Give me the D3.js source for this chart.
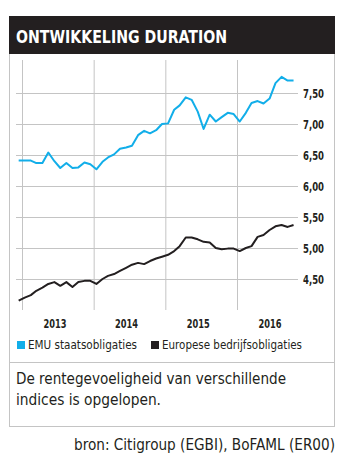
<!DOCTYPE html>
<html>
<head>
<meta charset="utf-8">
<script src="https://cdn.jsdelivr.net/npm/d3@7"></script>
<style>
  body { margin: 0; background: #fff; }
  text { font-family: "Liberation Sans Narrow", "DejaVu Sans Condensed", "Liberation Sans", sans-serif; }
</style>
</head>
<body>
<div id="chart"></div>
<script>
// monthly observations, Dec 2012 - Oct 2016
var months = d3.timeMonth.range(new Date(2012, 11, 1), new Date(2016, 10, 1))
  .map(function (d) { return d3.timeDay.offset(d, 14); });

var emuValues = [6.41, 6.41, 6.41, 6.37, 6.37, 6.54, 6.40, 6.29, 6.37, 6.29,
  6.30, 6.38, 6.35, 6.27, 6.39, 6.46, 6.51, 6.60, 6.62, 6.65,
  6.82, 6.89, 6.85, 6.90, 7.00, 7.01, 7.23, 7.30, 7.43, 7.39,
  7.20, 6.92, 7.15, 7.04, 7.11, 7.18, 7.16, 7.04, 7.18, 7.34,
  7.37, 7.33, 7.41, 7.66, 7.76, 7.70, 7.70];

var corpValues = [4.15, 4.20, 4.24, 4.31, 4.36, 4.42, 4.45, 4.39, 4.45, 4.37,
  4.45, 4.47, 4.47, 4.42, 4.50, 4.55, 4.58, 4.63, 4.68, 4.73,
  4.76, 4.74, 4.79, 4.83, 4.86, 4.89, 4.95, 5.03, 5.17, 5.17,
  5.14, 5.10, 5.09, 5.00, 4.98, 4.99, 4.99, 4.95, 5.00, 5.03,
  5.18, 5.21, 5.29, 5.35, 5.37, 5.34, 5.37];

var yTicks = [4.5, 5, 5.5, 6, 6.5, 7, 7.5];
var years = [2013, 2014, 2015, 2016];
var seriesNames = ["EMU staatsobligaties", "Europese bedrijfsobligaties"];
var seriesColors = ["#12aee9", "#231f20"];

var width = 346, height = 466;
var box = { left: 9, right: 335, top: 16, bottom: 427 };
var plot = { left: 16, right: 298, top: 62, bottom: 310 };
var ink = "#231f20";

var svg = d3.select("#chart").append("svg")
  .attr("width", width)
  .attr("height", height);

// squeeze text to the narrow widths of the original condensed face
function addText(xp, yp, size, str, len, opts) {
  opts = opts || {};
  return svg.append("text")
    .attr("x", xp).attr("y", yp)
    .attr("font-size", size)
    .attr("font-weight", opts.bold ? "bold" : null)
    .attr("fill", opts.fill || ink)
    .attr("text-anchor", opts.anchor || null)
    .attr("textLength", len)
    .attr("lengthAdjust", "spacingAndGlyphs")
    .text(str);
}

// frame
svg.append("rect")
  .attr("x", box.left + 0.5).attr("y", box.top + 0.5)
  .attr("width", box.right - box.left - 1).attr("height", box.bottom - box.top - 1)
  .attr("fill", "none").attr("stroke", "#c4c4c4");

svg.append("rect")
  .attr("x", box.left).attr("y", box.top)
  .attr("width", box.right - box.left).attr("height", 38)
  .attr("fill", ink);

addText(16, 42.5, 18.5, "ONTWIKKELING DURATION", 211, { bold: true, fill: "#fff" });

var x = d3.scaleTime()
  .domain([new Date(2013, 0, 1), new Date(2016, 0, 1)])
  .range([22, 237]);
var y = d3.scaleLinear().domain([4, 8]).range([plot.bottom, plot.top]);

// vertical year grid
var xGrid = svg.append("g")
  .attr("transform", "translate(0," + plot.bottom + ")")
  .call(d3.axisBottom(x)
    .tickValues(years.map(function (yr) { return new Date(yr, 0, 1); }))
    .tickSize(-(plot.bottom - 60))
    .tickFormat(""));
xGrid.select(".domain").remove();
xGrid.selectAll("line").attr("stroke", "#c4c4c4");

// horizontal grid + labels
var yAxis = svg.append("g")
  .attr("transform", "translate(" + plot.right + ",0)")
  .call(d3.axisRight(y)
    .tickValues(yTicks)
    .tickSize(-(plot.right - plot.left))
    .tickPadding(5)
    .tickFormat(function (d) { return d3.format(".2f")(d).replace(".", ","); }));
yAxis.select(".domain").remove();
yAxis.selectAll("line").attr("stroke", "#c4c4c4");
yAxis.selectAll("text")
  .attr("fill", ink)
  .attr("font-size", 12.5).attr("font-weight", "bold")
  .attr("textLength", 21).attr("lengthAdjust", "spacingAndGlyphs")
  .style("font-family", "'Liberation Sans Narrow', 'DejaVu Sans Condensed', sans-serif");

// year labels
var xLabels = svg.append("g")
  .attr("transform", "translate(0," + (plot.bottom + 6) + ")")
  .call(d3.axisBottom(x)
    .tickValues(years.map(function (yr) { return new Date(yr, 5, 15); }))
    .tickSize(0)
    .tickFormat(d3.timeFormat("%Y")));
xLabels.select(".domain").remove();
xLabels.selectAll("text")
  .attr("fill", ink)
  .attr("font-size", 12.5).attr("font-weight", "bold")
  .attr("textLength", 23).attr("lengthAdjust", "spacingAndGlyphs")
  .style("font-family", "'Liberation Sans Narrow', 'DejaVu Sans Condensed', sans-serif");

// lines
var line = d3.line()
  .x(function (d, i) { return x(months[i]); })
  .y(function (d) { return y(d); });

[emuValues, corpValues].forEach(function (vals, k) {
  svg.append("path")
    .datum(vals)
    .attr("fill", "none")
    .attr("stroke", seriesColors[k])
    .attr("stroke-width", 2)
    .attr("stroke-linejoin", "round")
    .attr("d", line);
});

// legend
var legendX = [17, 151];
var legendLen = [109, 140];
seriesNames.forEach(function (name, k) {
  svg.append("rect")
    .attr("x", legendX[k]).attr("y", 341)
    .attr("width", 8).attr("height", 8)
    .attr("fill", seriesColors[k]);
  addText(legendX[k] + 11, 349, 12.5, name, legendLen[k]);
});

svg.append("line")
  .attr("x1", box.left).attr("x2", box.right)
  .attr("y1", 362.5).attr("y2", 362.5)
  .attr("stroke", "#c4c4c4");

// caption
addText(16, 384, 16.5, "De rentegevoeligheid van verschillende", 270);
addText(16, 405, 16.5, "indices is opgelopen.", 145);

addText(335, 450, 16.5, "bron: Citigroup (EGBI), BoFAML (ER00)", 261, { anchor: "end" });
</script>
</body>
</html>
